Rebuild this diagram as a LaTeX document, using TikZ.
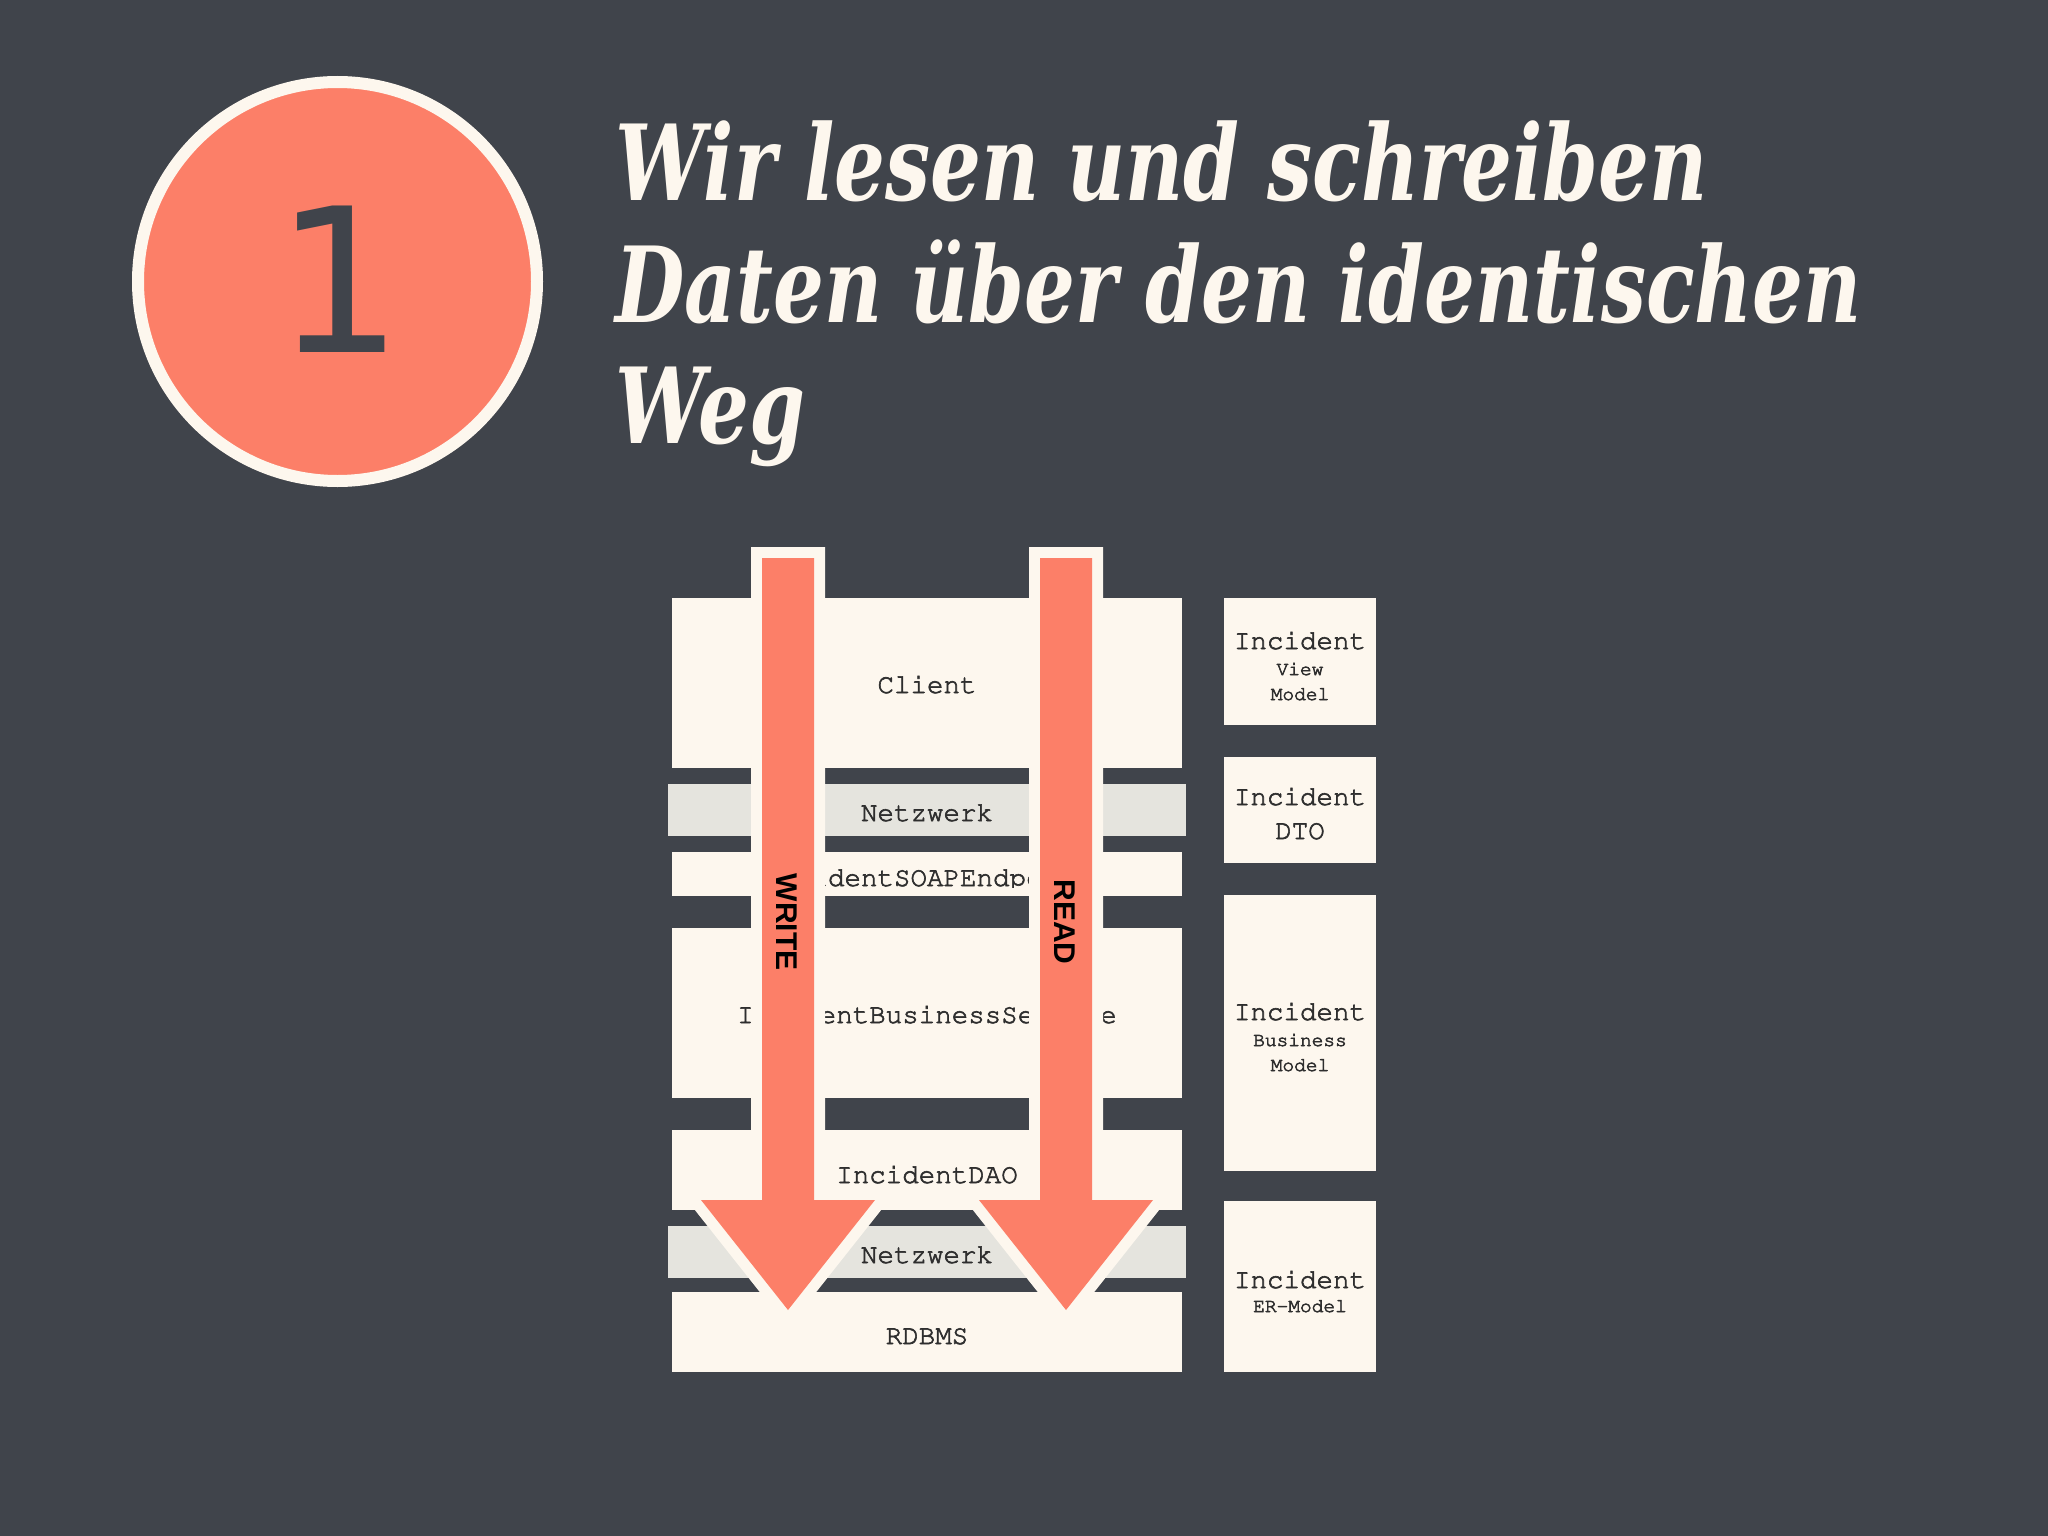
\documentclass[tikz,border=0pt]{standalone}
\usepackage[T1]{fontenc}
\usepackage{fontspec}
\usepackage{graphicx}
\newfontfamily\titlefont{DejaVu Serif}
\newfontfamily\digitfont{DejaVu Sans}
\newfontfamily\arrowfont{Liberation Sans}
\definecolor{bg}{HTML}{40444B}
\definecolor{salmon}{HTML}{FC7F68}
\definecolor{cream}{HTML}{FDF7EE}
\definecolor{netgray}{HTML}{E5E4DE}
\definecolor{txt}{HTML}{2E2E2E}
\newsavebox\titlebox
\newcommand\thk[1]{\special{pdf:literal direct 2 Tr 0.6 w}#1\special{pdf:literal direct 0 Tr}}
\begin{document}
\sbox\titlebox{\titlefont\bfseries\itshape\fontsize{105}{120}\selectfont Daten über den identischen}%
\pgfmathsetmacro\tfac{1247/\wd\titlebox}%
\begin{tikzpicture}[x=1pt,y=-1pt,
  box/.style={fill=cream,draw=none,inner sep=0pt,outer sep=0pt},
  netbox/.style={fill=netgray,draw=none,inner sep=0pt,outer sep=0pt},
  lbl/.style={font=\fontencoding{T1}\fontfamily{pcr}\fontsize{27.5}{30}\selectfont,text=txt,inner sep=0pt,anchor=base},
  smalllbl/.style={font=\fontencoding{T1}\fontfamily{pcr}\fontsize{19.5}{22}\selectfont,text=txt,inner sep=0pt,anchor=base},
  titletxt/.style={font=\titlefont\bfseries\itshape\fontsize{105}{120}\selectfont,text=cream,inner sep=0pt,anchor=base west},
  arrowshape/.style={fill=salmon,draw=none,preaction={draw=cream,line width=22pt,line join=miter}},
  arrowlbl/.style={font=\arrowfont\bfseries\fontsize{30}{32}\selectfont,text=black,inner sep=0pt,rotate=-90}
]
\useasboundingbox (0,0) rectangle (2048,1536);
\fill[bg] (0,0) rectangle (2048,1536);

% badge
\node[circle,fill=salmon,draw=cream,line width=12pt,minimum size=399pt,inner sep=0pt] (badge) at (337.5,281.5) {};
\node[font=\digitfont\fontsize{201}{210}\selectfont,text=bg,inner sep=0pt,anchor=base] (num) at (339,352) {1};

% title
\node[titletxt] (t1) at (615,200) {\scalebox{\tfac}[1]{Wir lesen und schreiben}};
\node[titletxt] (t2) at (615,322) {\scalebox{\tfac}[1]{Daten über den identischen}};
\node[titletxt] (t3) at (615,443) {\scalebox{\tfac}[1]{Weg}};

% layer stack
\node[box,minimum width=510pt,minimum height=170pt] (client) at (927,683) {};
\node[netbox,minimum width=518pt,minimum height=52pt] (net1) at (927,810) {};
\node[box,minimum width=510pt,minimum height=44pt] (soap) at (927,874) {};
\node[box,minimum width=510pt,minimum height=170pt] (bus) at (927,1013) {};
\node[box,minimum width=510pt,minimum height=80pt] (dao) at (927,1170) {};
\node[netbox,minimum width=518pt,minimum height=52pt] (net2) at (927,1252) {};
\node[box,minimum width=510pt,minimum height=80pt] (rdbms) at (927,1332) {};

\node[lbl] (lclient) at (927,693) {\thk{Client}};
\node[lbl] (lnet1) at (927,821) {\thk{Netzwerk}};
\begin{scope}
  \clip (672,852) rectangle (1182,887);
  \node[lbl] (lsoap) at (927,886) {\thk{IncidentSOAPEndpoint}};
\end{scope}
\node[lbl] (lbus) at (927,1023) {\thk{IncidentBusinessService}};
\node[lbl] (ldao) at (927,1183) {\thk{IncidentDAO}};
\node[lbl] (lnet2) at (927,1263) {\thk{Netzwerk}};
\node[lbl] (lrdbms) at (927,1344) {\thk{RDBMS}};

% model column
\node[box,minimum width=152pt,minimum height=127pt] (m1) at (1300,661.5) {};
\node[box,minimum width=152pt,minimum height=106pt] (m2) at (1300,810) {};
\node[box,minimum width=152pt,minimum height=276pt] (m3) at (1300,1033) {};
\node[box,minimum width=152pt,minimum height=171pt] (m4) at (1300,1286.5) {};

\node[lbl] (m1a) at (1300,649) {\thk{Incident}};
\node[smalllbl] (m1b) at (1300,675) {\thk{View}};
\node[smalllbl] (m1c) at (1300,700) {\thk{Model}};
\node[lbl] (m2a) at (1300,805) {\thk{Incident}};
\node[lbl] (m2b) at (1300,839) {\thk{DTO}};
\node[lbl] (m3a) at (1300,1020) {\thk{Incident}};
\node[smalllbl] (m3b) at (1300,1046) {\thk{Business}};
\node[smalllbl] (m3c) at (1300,1071) {\thk{Model}};
\node[lbl] (m4a) at (1300,1288) {\thk{Incident}};
\node[smalllbl] (m4b) at (1300,1312) {\thk{ER-Model}};

% arrows
\coordinate (wtop) at (788,558);
\coordinate (wtip) at (788,1310);
\coordinate (rtop) at (1066,558);
\coordinate (rtip) at (1066,1310);
\path[arrowshape] (wtop) ++(-26,0) -- ++(0,642) -- ++(-61,0) -- (wtip) -- ++(87,-110) -- ++(-61,0) -- ++(0,-642) -- cycle;
\path[arrowshape] (rtop) ++(-26,0) -- ++(0,642) -- ++(-61,0) -- (rtip) -- ++(87,-110) -- ++(-61,0) -- ++(0,-642) -- cycle;
\node[arrowlbl] (write) at (787,922) {WRITE};
\node[arrowlbl] (read) at (1065,922) {READ};
\end{tikzpicture}
\end{document}
